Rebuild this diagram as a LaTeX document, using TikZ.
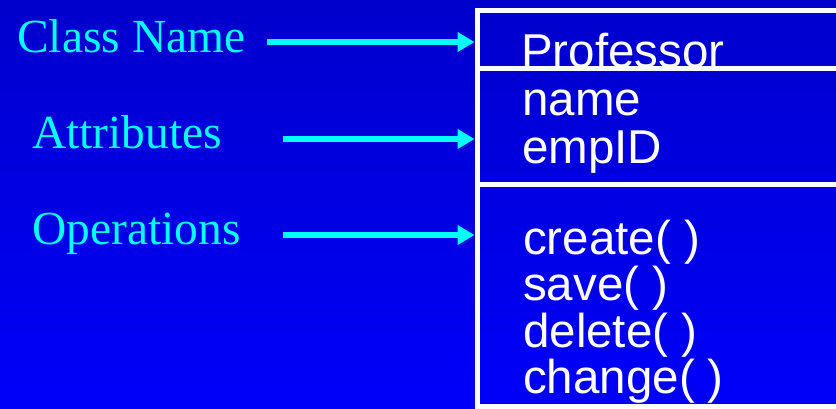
\documentclass[tikz,border=0pt]{standalone}
\usepackage{fontspec}
\setmainfont{Liberation Serif}
\newfontfamily\umlfont{Liberation Sans}
\usetikzlibrary{arrows.meta}
\definecolor{bgtop}{RGB}{0,0,204}
\definecolor{bgbot}{RGB}{0,0,250}
\definecolor{labelcyan}{RGB}{0,255,255}
\tikzset{
  label/.style={anchor=base west, inner sep=0pt, text=labelcyan,
    font=\fontsize{47.5bp}{50bp}\selectfont},
  member/.style={anchor=base west, inner sep=0pt, text=white,
    font=\umlfont\fontsize{47.5bp}{50bp}\selectfont},
  pointer/.style={draw=labelcyan, line width=6bp,
    -{Triangle[length=17bp,width=19bp]}},
  frame/.style={draw=white, line width=5bp}
}
\begin{document}
\begin{tikzpicture}[x=1bp,y=-1bp]
  \useasboundingbox (0,0) rectangle (836,408);
  \clip (0,0) rectangle (836,408);
  \shade[top color=bgtop, bottom color=bgbot] (0,0) rectangle (836,408);

  % compartment texts (drawn first, the frame lines cover their lower edges)
  \node[member] (cname) at (521,67) {Professor};
  \node[member] (a1) at (522,115) {name};
  \node[member] (a2) at (522,163) {empID};
  \node[member] (o1) at (523,254) {create( )};
  \node[member] (o2) at (523,300) {save( )};
  \node[member] (o3) at (523,347) {delete( )};
  \node[member] (o4) at (523,393) {change( )};

  % class box and compartment dividers
  \coordinate (boxNW) at (477.5,10.5);
  \coordinate (boxSE) at (860,406.5);
  \draw[frame] (boxNW) rectangle (boxSE);
  \coordinate (div1w) at (477.5,68);
  \coordinate (div1e) at (860,68);
  \coordinate (div2w) at (477.5,184);
  \coordinate (div2e) at (860,184);
  \draw[frame] (div1w) -- (div1e);
  \draw[frame] (div2w) -- (div2e);

  % labels on the left
  \node[label] (lclass) at (17,52) {Class Name};
  \node[label] (lattr) at (32,148) {Attributes};
  \node[label] (lops) at (32,244) {Operations};

  % pointer arrows
  \coordinate (s1) at (267,42);
  \coordinate (e1) at (474.5,42);
  \coordinate (s2) at (283,139);
  \coordinate (e2) at (474.5,139);
  \coordinate (s3) at (283,235);
  \coordinate (e3) at (474.5,235);
  \draw[pointer] (s1) -- (e1);
  \draw[pointer] (s2) -- (e2);
  \draw[pointer] (s3) -- (e3);
\end{tikzpicture}
\end{document}
